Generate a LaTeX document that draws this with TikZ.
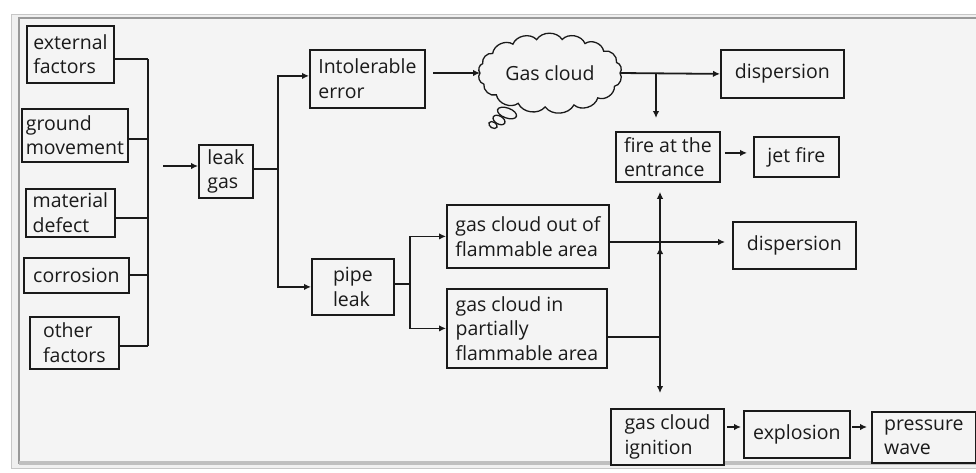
\documentclass[tikz,border=0pt]{standalone}
\usepackage{fontspec}
\setmainfont{Open Sans}
\usetikzlibrary{arrows.meta,calc}
\definecolor{ink}{HTML}{1A1A1A}
\definecolor{bg}{HTML}{F4F4F4}
\tikzset{
  box/.style={draw=ink, line width=1.8pt, fill=bg, anchor=north west, align=left,
              inner sep=0pt, text=ink, font=\fontsize{19.5}{24.5}\selectfont},
  conn/.style={draw=ink, line width=1.8pt},
  arr/.style={conn, -{Latex[length=7pt,width=6.5pt]}},
  bubble/.style={draw=ink, line width=1.3pt, fill=bg},
}
\newcommand{\bx}[6]{\node[box, minimum width={(#4-#2)*1pt}, minimum height={(#5-#3)*1pt}] (#1) at (#2,#3) {#6};}
\begin{document}
\begin{tikzpicture}[x=1pt,y=-1pt]
\useasboundingbox (0,0) rectangle (976,472);
\fill[white] (0,0) rectangle (976,472);
% frame
\draw[draw=black!22, fill=black!6] (11,14) rectangle (980,468);
\draw[draw=black!40, line width=1.2pt, fill=bg] (19,18) rectangle (980,463);
\fill[black!25] (19,461) rectangle (980,465);
% left column
\bx{ext}{26}{25}{113}{82}{external\\factors}
\bx{gm}{21}{108}{127}{161}{ground\\movement}
\bx{md}{25}{188}{114}{236}{material\\defect}
\bx{cor}{23}{257}{128}{292}{corrosion}
\bx{oth}{29}{316}{118}{368}{other\\factors}
\bx{leak}{198}{144}{252}{197}{leak\\gas}
\bx{int}{309}{49}{424}{107}{Intolerable\\error}
\bx{pipe}{311}{258}{393}{314}{pipe\\leak}
% cloud outline points
\foreach \a [count=\i] in {0,18,40,60,80,101,122,145,164,180,199,220,243,266,290,313,337,360}
  \coordinate (k\i) at ($(550,73)+(\a:70 and -34)$);
\coordinate (cwest) at (k10);
\coordinate (ceast) at (k1);
\draw[bubble] (k1) \foreach \i in {2,...,18} { to[bend right=58] (k\i) } -- cycle;
\node[text=ink, font=\fontsize{19.5}{24.5}\selectfont, inner sep=0pt] (cloud) at (550,73) {Gas cloud};
\draw[bubble, rotate around={-20:(507,113)}] (507,113) ellipse (10pt and 5pt);
\draw[bubble, rotate around={-30:(499,120)}] (499,120) ellipse (6.5pt and 4pt);
\draw[bubble, rotate around={-30:(493,125)}] (493,125) ellipse (4.5pt and 3pt);
\bx{disp1}{720}{49}{843}{97}{dispersion}
\bx{fire}{615}{131}{719}{181}{fire at the\\entrance}
\bx{jet}{753}{136}{838}{176}{jet fire}
\bx{out}{446}{204}{608}{267}{gas cloud out of\\flammable area}
\bx{part}{446}{288}{606}{367}{gas cloud in\\partially\\flammable area}
\bx{disp2}{732}{221}{855}{268}{dispersion}
\bx{ign}{610}{408}{723}{464}{gas cloud\\ignition}
\bx{expl}{743}{410}{849}{457}{explosion}
\bx{press}{871}{411}{975}{462}{pressure\\wave}
% coordinates
\coordinate (b1) at (148,59);
\coordinate (b2) at (148,139);
\coordinate (b3) at (148,218);
\coordinate (b4) at (148,275);
\coordinate (b5) at (148,346);
\coordinate (a0) at (163,166);
\coordinate (t0) at (278,169);
\coordinate (c1) at (433,73);
\coordinate (j1) at (656,73);
\coordinate (v0) at (660,242);
\coordinate (pj) at (660,337);
\coordinate (pj2) at (410,284);
\coordinate (e1) at (727,427);
\coordinate (e2) at (852,427);
% left bus
\draw[conn, line width=2.4pt] (b1) -- (b5);
\draw[conn] (ext.east |- b1) -- (b1);
\draw[conn] (gm.east |- b2) -- (b2);
\draw[conn] (md.east |- b3) -- (b3);
\draw[conn] (cor.east |- b4) -- (b4);
\draw[conn, line width=2.8pt] (oth.east |- b5) -- (b5);
\draw[arr] (a0) -- (leak.west |- a0);
% trunk
\draw[conn] (leak.east |- t0) -- (t0);
\draw[arr] (t0) |- ($(int.west)+(0,-3)$);
\draw[arr] (t0) |- (pipe.west);
% upper path
\draw[arr] (c1) -- (cwest);
\draw[arr] (ceast) -- (disp1.west);
\draw[arr, shorten >=13pt] (j1) -- (j1 |- fire.north);
\draw[arr, shorten <=4pt, shorten >=6pt] ($(fire.east)+(0,-4)$) -- ($(jet.west)+(0,-4)$);
% pipe branches
\draw[conn] (pipe.east |- pj2) -- (pj2);
\draw[arr] (pj2) |- (out.west);
\draw[arr] (pj2) |- (part.west);
% right vertical
\draw[arr] (out.east |- v0) -- ($(disp2.west |- v0)+(-7,0)$);
\draw[conn] (part.east |- pj) -- (pj);
\draw[arr, shorten >=9pt] (v0) -- (v0 |- fire.south);
\draw[arr, shorten >=5pt] (pj) -- (v0);
\draw[arr, shorten >=15pt] (v0) -- (v0 |- ign.north);
% bottom row
\draw[arr] (e1) -- ($(expl.west |- e1)+(-2,0)$);
\draw[arr] (e2) -- ($(press.west |- e2)+(-4,0)$);
\end{tikzpicture}
\end{document}
